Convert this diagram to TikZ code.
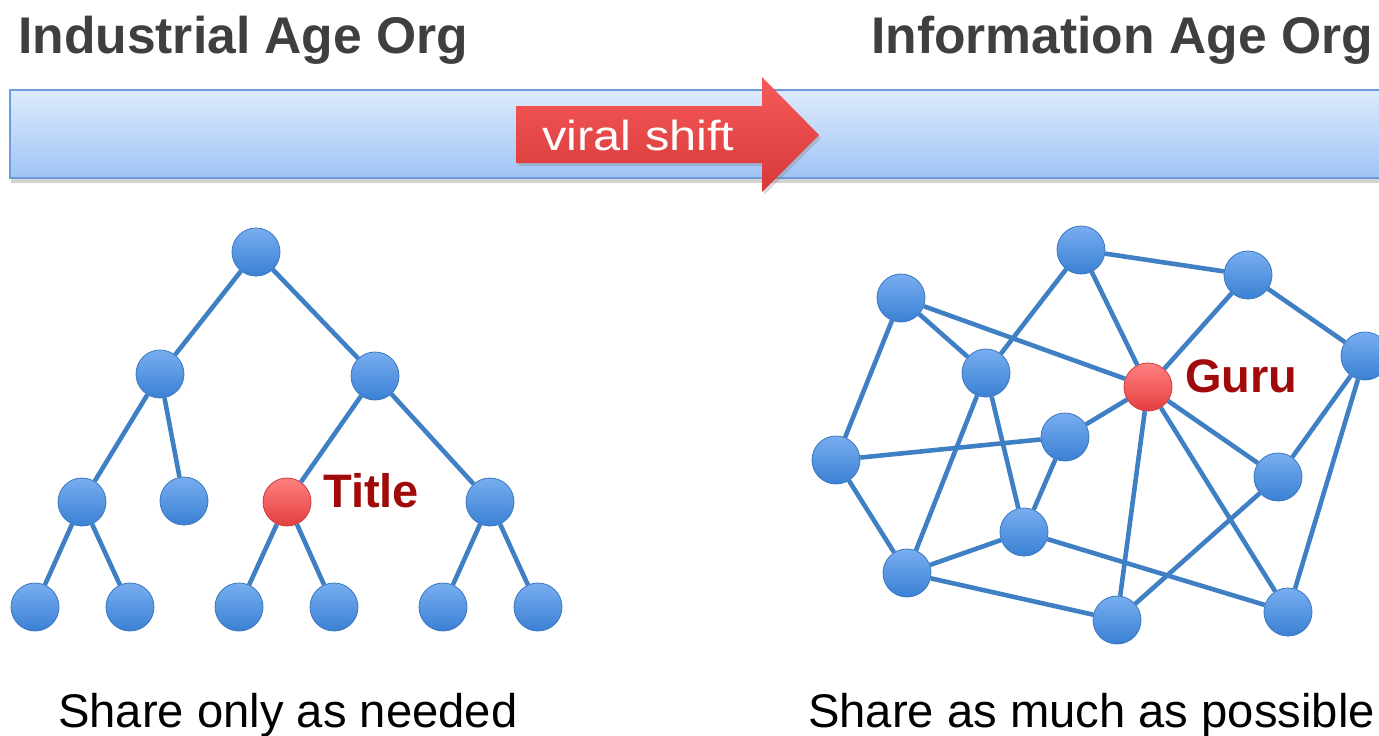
\documentclass[tikz,border=0pt]{standalone}
\usepackage{fontspec}
\setmainfont{Liberation Sans}
\usetikzlibrary{shadows}
\definecolor{titlegray}{HTML}{3F3F3F}
\definecolor{edgeblue}{HTML}{3F7FC4}
\definecolor{nodetop}{HTML}{78AEF0}
\definecolor{nodebot}{HTML}{3A80D4}
\definecolor{nodeline}{HTML}{3A76BE}
\definecolor{redtop}{HTML}{FF8080}
\definecolor{redbot}{HTML}{E43E3E}
\definecolor{redline}{HTML}{CC3B3B}
\definecolor{bartop}{HTML}{DDEAFC}
\definecolor{barbot}{HTML}{A0C4F6}
\definecolor{barline}{HTML}{6C9DDA}
\definecolor{arrtop}{HTML}{F75A5A}
\definecolor{arrbot}{HTML}{D63838}
\definecolor{labelred}{HTML}{A00A0A}
\tikzset{
  dot/.style={circle, minimum size=48pt, inner sep=0pt, draw=nodeline, line width=0.8pt, top color=nodetop, bottom color=nodebot},
  reddot/.style={circle, minimum size=48pt, inner sep=0pt, draw=redline, line width=0.8pt, top color=redtop, bottom color=redbot},
  link/.style={draw=edgeblue, line width=4.6pt},
  headtext/.style={anchor=base, text=titlegray, font=\fontsize{51.6}{60}\selectfont\bfseries, inner sep=0pt},
  foottext/.style={anchor=base, text=black, font=\fontsize{47.2}{56}\selectfont, inner sep=0pt},
  redlabel/.style={anchor=base west, text=labelred, font=\fontsize{47}{56}\selectfont\bfseries, inner sep=0pt}
}
\begin{document}
\begin{tikzpicture}[x=1pt,y=-1pt]
\useasboundingbox (0,0) rectangle (1379,736);
% titles
\node[headtext, anchor=base west] (t1) at (18,53) {Industrial Age Org};
\node[headtext, anchor=base east] (t2) at (1373,53) {Information Age Org};
% bar
\path[draw=barline, line width=1.5pt, top color=bartop, bottom color=barbot,
  drop shadow={shadow xshift=1pt, shadow yshift=-5pt, opacity=0.35}]
  (10,90) rectangle (1390,178);
% arrow
\path[top color=arrtop, bottom color=arrbot,
  drop shadow={shadow xshift=2pt, shadow yshift=-3pt, opacity=0.3}]
  (516,106) -- (762,106) -- (762,77) -- (819,135) -- (762,192) -- (762,163) -- (516,163) -- cycle;
\node[anchor=base west, inner sep=0pt, text=white, font=\fontsize{42}{50}\selectfont] (vs) at (542,150) {\scalebox{1.16}[1]{viral shift}};
% left tree nodes
\node[dot] (r) at (256,252) {};
\node[dot] (a) at (160,374) {};
\node[dot] (b) at (375,376) {};
\node[dot] (a1) at (82,502) {};
\node[dot] (a2) at (184,501) {};
\node[reddot] (b1) at (287,502) {};
\node[dot] (b2) at (490,502) {};
\node[dot] (l1) at (35,607) {};
\node[dot] (l2) at (130,607) {};
\node[dot] (l3) at (239,607) {};
\node[dot] (l4) at (334,607) {};
\node[dot] (l5) at (443,607) {};
\node[dot] (l6) at (538,607) {};
\node[redlabel] (title) at (323,507) {Title};
% right network nodes
\node[dot] (n1) at (1081,250) {};
\node[dot] (n2) at (1248,275) {};
\node[dot] (n3) at (1365,356) {};
\node[dot] (n4) at (901,298) {};
\node[dot] (n5) at (986,373) {};
\node[reddot] (g) at (1148,387) {};
\node[dot] (n6) at (1065,437) {};
\node[dot] (n7) at (836,460) {};
\node[dot] (n8) at (1278,477) {};
\node[dot] (n9) at (1024,532) {};
\node[dot] (n10) at (907,573) {};
\node[dot] (n11) at (1117,620) {};
\node[dot] (n12) at (1288,612) {};
\node[redlabel] (guru) at (1185,392) {Guru};
% edges left
\foreach \u/\v in {r/a, r/b, a/a1, a/a2, b/b1, b/b2, a1/l1, a1/l2, b1/l3, b1/l4, b2/l5, b2/l6}
  \draw[link] (\u) -- (\v);
% edges right
\foreach \u/\v in {n1/n2, n1/n5, n1/g, n2/g, n2/n3, n4/n5, n4/g, n4/n7, n5/n10, n5/n9, g/n6, g/n11, g/n12, g/n8, n6/n7, n6/n9, n7/n10, n10/n9, n10/n11, n9/n12, n11/n8, n8/n3, n3/n12}
  \draw[link] (\u) -- (\v);
% footers
\node[foottext, anchor=base west] (f1) at (58,727) {Share only as needed};
\node[foottext, anchor=base west] (f2) at (808,727) {Share as much as possible};
\end{tikzpicture}
\end{document}
